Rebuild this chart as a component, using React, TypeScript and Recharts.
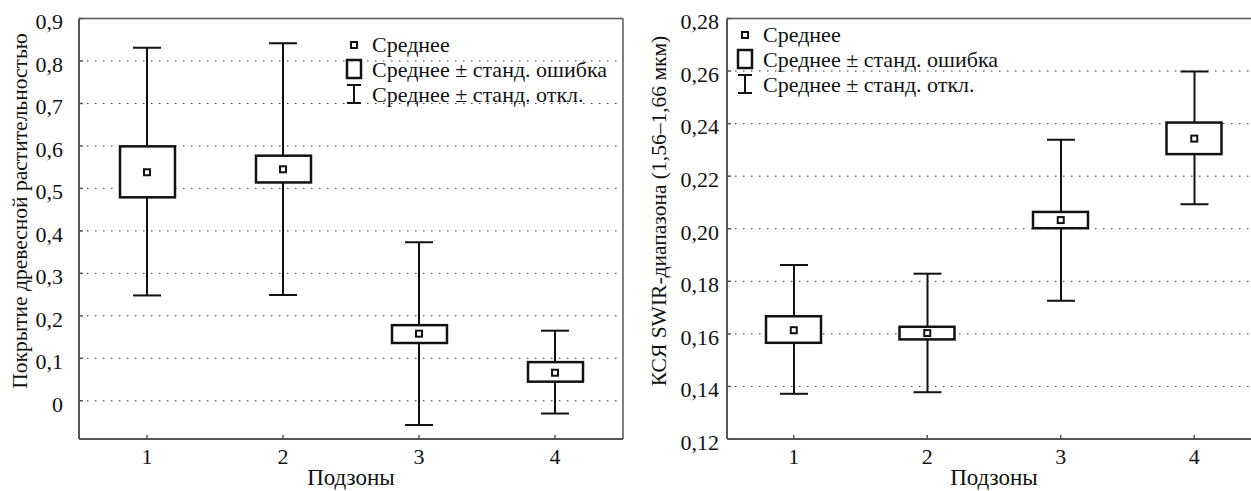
import { ComposedChart, Bar, Line, XAxis, YAxis, CartesianGrid, Legend } from "recharts";

const zones = ["1", "2", "3", "4"];

// левая панель: покрытие древесной растительностью
const coverMean = [0.538, 0.545, 0.158, 0.066];
const coverSeLow = [0.479, 0.514, 0.136, 0.045];
const coverSeHigh = [0.599, 0.577, 0.178, 0.091];
const coverSdLow = [0.248, 0.249, -0.057, -0.03];
const coverSdHigh = [0.831, 0.842, 0.373, 0.165];
const coverTicks = [0, 0.1, 0.2, 0.3, 0.4, 0.5, 0.6, 0.7, 0.8, 0.9];

// правая панель: КСЯ SWIR
const swirMean = [0.1614, 0.1603, 0.2033, 0.2343];
const swirSeLow = [0.1566, 0.1579, 0.2002, 0.2284];
const swirSeHigh = [0.1667, 0.1627, 0.2064, 0.2404];
const swirSdLow = [0.1372, 0.1378, 0.1726, 0.2093];
const swirSdHigh = [0.1862, 0.1829, 0.2339, 0.2598];
const swirTicks = [0.12, 0.14, 0.16, 0.18, 0.2, 0.22, 0.24, 0.26, 0.28];

const FONT = "'Liberation Serif', 'Times New Roman', serif";
const INK = "#111";
const AXIS = "#555";

function buildRows(mean: number[], seLow: number[], seHigh: number[], sdLow: number[], sdHigh: number[]) {
  return zones.map((zone, i) => ({
    zone,
    mean: mean[i],
    se: [seLow[i], seHigh[i]],
    sd: [sdLow[i], sdHigh[i]],
  }));
}

const Whisker = (props: any) => {
  const { x, y, width, height } = props;
  const top = Math.min(y, y + height);
  const bottom = Math.max(y, y + height);
  const cx = x + width / 2;
  return (
    <g stroke={INK} strokeWidth={2} fill="none">
      <line x1={cx} x2={cx} y1={top} y2={bottom} />
      <line x1={x} x2={x + width} y1={top} y2={top} />
      <line x1={x} x2={x + width} y1={bottom} y2={bottom} />
    </g>
  );
};

const Box = (props: any) => {
  const { x, y, width, height } = props;
  return (
    <rect
      x={x}
      y={Math.min(y, y + height)}
      width={width}
      height={Math.abs(height)}
      fill="#fff"
      stroke={INK}
      strokeWidth={2.5}
    />
  );
};

const MeanDot = (props: any) => {
  const { cx, cy, index } = props;
  if (cx == null || cy == null) return <g key={index} />;
  return <rect key={index} x={cx - 3} y={cy - 3} width={6} height={6} fill="#fff" stroke={INK} strokeWidth={2} />;
};

const LegendBox = () => (
  <svg width={280} height={80} style={{ display: "block", overflow: "visible" }}>
    <g fontFamily={FONT} fontSize={22} fill={INK}>
      <rect x={11} y={10} width={6} height={6} fill="#fff" stroke={INK} strokeWidth={2} />
      <text x={32} y={20}>Среднее</text>
      <rect x={7} y={28} width={14} height={18} fill="none" stroke={INK} strokeWidth={2.5} />
      <text x={32} y={45}>Среднее ± станд. ошибка</text>
      <g stroke={INK} strokeWidth={2}>
        <line x1={7} x2={21} y1={53} y2={53} />
        <line x1={14} x2={14} y1={53} y2={71} />
        <line x1={7} x2={21} y1={71} y2={71} />
      </g>
      <text x={32} y={70}>Среднее ± станд. откл.</text>
    </g>
  </svg>
);

function Panel(p: {
  width: number;
  rows: any[];
  domain: [number, number];
  ticks: number[];
  digits: number;
  yLabel: string;
  yLabelX: number;
  yLabelY: number;
  axisWidth: number;
  marginRight: number;
  tickGap: number;
  legendLeft: number;
  legendTop: number;
}) {
  const fmt = (v: number) => (v === 0 ? "0" : v.toFixed(p.digits).replace(".", ","));
  return (
    <ComposedChart
      width={p.width}
      height={491}
      data={p.rows}
      margin={{ top: 18.5, right: p.marginRight, bottom: 0, left: 0 }}
    >
      <CartesianGrid
        xAxisId="a"
        yAxisId="l"
        vertical={false}
        stroke="#333"
        strokeDasharray="1.5 6.5"
      />
      <XAxis
        xAxisId="a"
        dataKey="zone"
        height={52}
        axisLine={{ stroke: AXIS, strokeWidth: 2 }}
        tickLine={{ stroke: AXIS, strokeWidth: 1.5 }}
        tickSize={-4}
        tickMargin={13}
        tick={{ fontFamily: FONT, fontSize: 22, fill: INK }}
        label={{
          value: "Подзоны",
          position: "insideBottom",
          offset: 6,
          style: { fontFamily: FONT, fontSize: 23, fill: INK },
        }}
      />
      <XAxis xAxisId="b" dataKey="zone" hide />
      <XAxis
        xAxisId="top"
        orientation="top"
        type="number"
        domain={[0, 3]}
        ticks={[0.5, 1.5, 2.5]}
        mirror
        allowDataOverflow
        tick={false}
        tickSize={4}
        axisLine={{ stroke: AXIS, strokeWidth: 1.5 }}
        tickLine={{ stroke: AXIS, strokeWidth: 1.5 }}
      />
      <YAxis
        yAxisId="l"
        type="number"
        domain={p.domain}
        ticks={p.ticks}
        allowDataOverflow
        width={p.axisWidth}
        axisLine={{ stroke: AXIS, strokeWidth: 2 }}
        tickLine={{ stroke: AXIS, strokeWidth: 1.5 }}
        tickSize={-4}
        tickMargin={p.tickGap + 4}
        tickFormatter={fmt}
        tick={{ fontFamily: FONT, fontSize: 22, fill: INK, dy: 3 }}
        label={{
          content: () => (
            <text
              transform={`translate(${p.yLabelX},${p.yLabelY}) rotate(-90)`}
              textAnchor="middle"
              dominantBaseline="central"
              fontFamily={FONT}
              fontSize={21.5}
              fill={INK}
            >
              {p.yLabel}
            </text>
          ),
        }}
      />
      <YAxis
        yAxisId="r"
        orientation="right"
        type="number"
        domain={p.domain}
        ticks={p.ticks}
        allowDataOverflow
        mirror
        tick={false}
        tickSize={4}
        axisLine={{ stroke: AXIS, strokeWidth: 1.5 }}
        tickLine={{ stroke: AXIS, strokeWidth: 1.5 }}
      />
      <Legend
        layout="horizontal"
        verticalAlign="middle"
        wrapperStyle={{ left: p.legendLeft, top: p.legendTop, width: 280 }}
        content={() => <LegendBox />}
      />
      <Bar xAxisId="a" yAxisId="l" dataKey="sd" barSize={28} shape={Whisker} isAnimationActive={false} />
      <Bar xAxisId="b" yAxisId="l" dataKey="se" barSize={55} shape={Box} isAnimationActive={false} />
      <Line
        xAxisId="a"
        yAxisId="r"
        dataKey="mean"
        stroke="none"
        dot={MeanDot}
        activeDot={false}
        isAnimationActive={false}
      />
    </ComposedChart>
  );
}

export default function App() {
  const coverRows = buildRows(coverMean, coverSeLow, coverSeHigh, coverSdLow, coverSdHigh);
  const swirRows = buildRows(swirMean, swirSeLow, swirSeHigh, swirSdLow, swirSdHigh);
  return (
    <div
      style={{
        position: "fixed",
        left: 0,
        top: 0,
        width: 1251,
        height: 491,
        overflow: "hidden",
        background: "#fff",
        display: "flex",
      }}
    >
      <div style={{ flex: "none" }}>
        <Panel
          width={626}
          rows={coverRows}
          domain={[-0.09, 0.9]}
          ticks={coverTicks}
          digits={1}
          yLabel="Покрытие древесной растительностью"
          yLabelX={20}
          yLabelY={211}
          axisWidth={79}
          marginRight={3}
          tickGap={16}
          legendLeft={340}
          legendTop={32}
        />
      </div>
      <div style={{ flex: "none" }}>
        <Panel
          width={644}
          rows={swirRows}
          domain={[0.12, 0.28]}
          ticks={swirTicks}
          digits={2}
          yLabel="КСЯ SWIR-диапазона (1,56–1,66 мкм)"
          yLabelX={33}
          yLabelY={211}
          axisWidth={101}
          marginRight={9}
          tickGap={8}
          legendLeft={105}
          legendTop={22}
        />
      </div>
    </div>
  );
}
